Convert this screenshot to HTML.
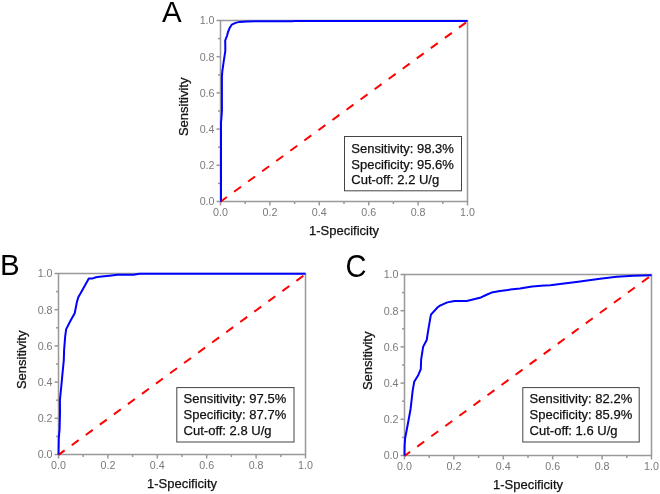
<!DOCTYPE html>
<html><head><meta charset="utf-8"><style>
html,body{margin:0;padding:0;background:#fff;}
body{width:660px;height:494px;overflow:hidden;}
svg{display:block;will-change:transform;font-family:"Liberation Sans",sans-serif;}
</style></head><body>
<svg width="660" height="494" viewBox="0 0 660 494">
<rect width="660" height="494" fill="#fff"/>
<g stroke="#999999" stroke-width="1.5" fill="none"><line x1="220.50" y1="201.50" x2="220.50" y2="205.50"/><line x1="216.50" y1="201.50" x2="220.50" y2="201.50"/><line x1="245.20" y1="201.50" x2="245.20" y2="204.00"/><line x1="218.00" y1="183.40" x2="220.50" y2="183.40"/><line x1="269.90" y1="201.50" x2="269.90" y2="205.50"/><line x1="216.50" y1="165.30" x2="220.50" y2="165.30"/><line x1="294.60" y1="201.50" x2="294.60" y2="204.00"/><line x1="218.00" y1="147.20" x2="220.50" y2="147.20"/><line x1="319.30" y1="201.50" x2="319.30" y2="205.50"/><line x1="216.50" y1="129.10" x2="220.50" y2="129.10"/><line x1="344.00" y1="201.50" x2="344.00" y2="204.00"/><line x1="218.00" y1="111.00" x2="220.50" y2="111.00"/><line x1="368.70" y1="201.50" x2="368.70" y2="205.50"/><line x1="216.50" y1="92.90" x2="220.50" y2="92.90"/><line x1="393.40" y1="201.50" x2="393.40" y2="204.00"/><line x1="218.00" y1="74.80" x2="220.50" y2="74.80"/><line x1="418.10" y1="201.50" x2="418.10" y2="205.50"/><line x1="216.50" y1="56.70" x2="220.50" y2="56.70"/><line x1="442.80" y1="201.50" x2="442.80" y2="204.00"/><line x1="218.00" y1="38.60" x2="220.50" y2="38.60"/><line x1="467.50" y1="201.50" x2="467.50" y2="205.50"/><line x1="216.50" y1="20.50" x2="220.50" y2="20.50"/><rect x="220.5" y="20.5" width="247" height="181"/></g>
<g fill="#7a7a7a" font-size="10.7"><text x="220.50" y="216.20" text-anchor="middle">0.0</text><text x="214.50" y="205.30" text-anchor="end">0.0</text><text x="269.90" y="216.20" text-anchor="middle">0.2</text><text x="214.50" y="169.10" text-anchor="end">0.2</text><text x="319.30" y="216.20" text-anchor="middle">0.4</text><text x="214.50" y="132.90" text-anchor="end">0.4</text><text x="368.70" y="216.20" text-anchor="middle">0.6</text><text x="214.50" y="96.70" text-anchor="end">0.6</text><text x="418.10" y="216.20" text-anchor="middle">0.8</text><text x="214.50" y="60.50" text-anchor="end">0.8</text><text x="467.50" y="216.20" text-anchor="middle">1.0</text><text x="214.50" y="24.30" text-anchor="end">1.0</text></g>
<text x="344.00" y="235.00" text-anchor="middle" font-size="13" fill="#111" stroke="#111" stroke-width="0.25">1-Specificity</text>
<text transform="translate(187.70,106.85) rotate(-90) scale(1,1.04)" text-anchor="middle" font-size="13" fill="#111" stroke="#111" stroke-width="0.25">Sensitivity</text>
<line x1="220.5" y1="201.7" x2="467.5" y2="21.4" stroke="#ff0000" stroke-width="2" stroke-dasharray="8.6 8.8" stroke-dashoffset="0.6"/>
<polyline points="220.99,201.50 220.99,121.86 221.29,120.05 221.91,111.00 221.91,76.39 222.30,71.31 223.61,62.20 225.29,51.09 225.29,45.01 225.19,40.50 227.09,35.60 228.01,31.99 229.81,27.70 231.69,24.70 235.59,22.91 239.30,21.89 247.10,21.60 255.08,21.30 292.13,21.30 294.60,20.90 467.50,20.90" fill="none" stroke="#0000ff" stroke-width="2" stroke-linejoin="round"/>
<rect x="344.5" y="136.5" width="117.00" height="54.30" fill="#fff" stroke="#444" stroke-width="1"/>
<text x="351.30" y="152.60" font-size="13" fill="#111" stroke="#111" stroke-width="0.25">Sensitivity: 98.3%</text>
<text x="351.30" y="168.50" font-size="13" fill="#111" stroke="#111" stroke-width="0.25">Specificity: 95.6%</text>
<text x="351.30" y="184.40" font-size="13" fill="#111" stroke="#111" stroke-width="0.25">Cut-off: 2.2 U/g</text>
<text transform="translate(161.9,21.6) scale(1,1.015)" font-size="29.5" fill="#000">A</text>
<g stroke="#999999" stroke-width="1.5" fill="none"><line x1="58.50" y1="454.50" x2="58.50" y2="458.50"/><line x1="54.50" y1="454.50" x2="58.50" y2="454.50"/><line x1="83.20" y1="454.50" x2="83.20" y2="457.00"/><line x1="56.00" y1="436.40" x2="58.50" y2="436.40"/><line x1="107.90" y1="454.50" x2="107.90" y2="458.50"/><line x1="54.50" y1="418.30" x2="58.50" y2="418.30"/><line x1="132.60" y1="454.50" x2="132.60" y2="457.00"/><line x1="56.00" y1="400.20" x2="58.50" y2="400.20"/><line x1="157.30" y1="454.50" x2="157.30" y2="458.50"/><line x1="54.50" y1="382.10" x2="58.50" y2="382.10"/><line x1="182.00" y1="454.50" x2="182.00" y2="457.00"/><line x1="56.00" y1="364.00" x2="58.50" y2="364.00"/><line x1="206.70" y1="454.50" x2="206.70" y2="458.50"/><line x1="54.50" y1="345.90" x2="58.50" y2="345.90"/><line x1="231.40" y1="454.50" x2="231.40" y2="457.00"/><line x1="56.00" y1="327.80" x2="58.50" y2="327.80"/><line x1="256.10" y1="454.50" x2="256.10" y2="458.50"/><line x1="54.50" y1="309.70" x2="58.50" y2="309.70"/><line x1="280.80" y1="454.50" x2="280.80" y2="457.00"/><line x1="56.00" y1="291.60" x2="58.50" y2="291.60"/><line x1="305.50" y1="454.50" x2="305.50" y2="458.50"/><line x1="54.50" y1="273.50" x2="58.50" y2="273.50"/><rect x="58.5" y="273.5" width="247" height="181"/></g>
<g fill="#7a7a7a" font-size="10.7"><text x="58.50" y="469.20" text-anchor="middle">0.0</text><text x="52.50" y="458.30" text-anchor="end">0.0</text><text x="107.90" y="469.20" text-anchor="middle">0.2</text><text x="52.50" y="422.10" text-anchor="end">0.2</text><text x="157.30" y="469.20" text-anchor="middle">0.4</text><text x="52.50" y="385.90" text-anchor="end">0.4</text><text x="206.70" y="469.20" text-anchor="middle">0.6</text><text x="52.50" y="349.70" text-anchor="end">0.6</text><text x="256.10" y="469.20" text-anchor="middle">0.8</text><text x="52.50" y="313.50" text-anchor="end">0.8</text><text x="305.50" y="469.20" text-anchor="middle">1.0</text><text x="52.50" y="277.30" text-anchor="end">1.0</text></g>
<text x="182.00" y="488.00" text-anchor="middle" font-size="13" fill="#111" stroke="#111" stroke-width="0.25">1-Specificity</text>
<text transform="translate(25.70,359.85) rotate(-90) scale(1,1.04)" text-anchor="middle" font-size="13" fill="#111" stroke="#111" stroke-width="0.25">Sensitivity</text>
<line x1="58.5" y1="454.9" x2="305.5" y2="274.2" stroke="#ff0000" stroke-width="2" stroke-dasharray="8.6 8.8" stroke-dashoffset="1.0"/>
<polyline points="58.50,454.50 58.80,437.59 59.61,429.30 60.01,411.69 59.91,400.00 61.29,386.41 62.60,372.31 63.81,360.11 64.11,350.01 65.09,337.39 66.11,329.39 70.21,321.30 74.70,313.19 76.90,302.01 78.41,296.90 80.61,293.30 88.81,278.41 92.71,278.41 95.99,277.19 99.50,276.70 109.21,275.71 117.71,274.69 133.49,274.69 139.52,273.86 305.50,273.86" fill="none" stroke="#0000ff" stroke-width="2" stroke-linejoin="round"/>
<rect x="176.8" y="387.6" width="117.20" height="54.40" fill="#fff" stroke="#444" stroke-width="1"/>
<text x="183.60" y="402.80" font-size="13" fill="#111" stroke="#111" stroke-width="0.25">Sensitivity: 97.5%</text>
<text x="183.60" y="418.70" font-size="13" fill="#111" stroke="#111" stroke-width="0.25">Specificity: 87.7%</text>
<text x="183.60" y="434.60" font-size="13" fill="#111" stroke="#111" stroke-width="0.25">Cut-off: 2.8 U/g</text>
<text transform="translate(-0.1,275.4) scale(1,1)" font-size="29.5" fill="#000">B</text>
<g stroke="#999999" stroke-width="1.5" fill="none"><line x1="404.50" y1="455.50" x2="404.50" y2="459.50"/><line x1="400.50" y1="455.50" x2="404.50" y2="455.50"/><line x1="429.20" y1="455.50" x2="429.20" y2="458.00"/><line x1="402.00" y1="437.40" x2="404.50" y2="437.40"/><line x1="453.90" y1="455.50" x2="453.90" y2="459.50"/><line x1="400.50" y1="419.30" x2="404.50" y2="419.30"/><line x1="478.60" y1="455.50" x2="478.60" y2="458.00"/><line x1="402.00" y1="401.20" x2="404.50" y2="401.20"/><line x1="503.30" y1="455.50" x2="503.30" y2="459.50"/><line x1="400.50" y1="383.10" x2="404.50" y2="383.10"/><line x1="528.00" y1="455.50" x2="528.00" y2="458.00"/><line x1="402.00" y1="365.00" x2="404.50" y2="365.00"/><line x1="552.70" y1="455.50" x2="552.70" y2="459.50"/><line x1="400.50" y1="346.90" x2="404.50" y2="346.90"/><line x1="577.40" y1="455.50" x2="577.40" y2="458.00"/><line x1="402.00" y1="328.80" x2="404.50" y2="328.80"/><line x1="602.10" y1="455.50" x2="602.10" y2="459.50"/><line x1="400.50" y1="310.70" x2="404.50" y2="310.70"/><line x1="626.80" y1="455.50" x2="626.80" y2="458.00"/><line x1="402.00" y1="292.60" x2="404.50" y2="292.60"/><line x1="651.50" y1="455.50" x2="651.50" y2="459.50"/><line x1="400.50" y1="274.50" x2="404.50" y2="274.50"/><rect x="404.5" y="274.5" width="247" height="181"/></g>
<g fill="#7a7a7a" font-size="10.7"><text x="404.50" y="470.20" text-anchor="middle">0.0</text><text x="398.50" y="459.30" text-anchor="end">0.0</text><text x="453.90" y="470.20" text-anchor="middle">0.2</text><text x="398.50" y="423.10" text-anchor="end">0.2</text><text x="503.30" y="470.20" text-anchor="middle">0.4</text><text x="398.50" y="386.90" text-anchor="end">0.4</text><text x="552.70" y="470.20" text-anchor="middle">0.6</text><text x="398.50" y="350.70" text-anchor="end">0.6</text><text x="602.10" y="470.20" text-anchor="middle">0.8</text><text x="398.50" y="314.50" text-anchor="end">0.8</text><text x="651.50" y="470.20" text-anchor="middle">1.0</text><text x="398.50" y="278.30" text-anchor="end">1.0</text></g>
<text x="528.00" y="489.00" text-anchor="middle" font-size="13" fill="#111" stroke="#111" stroke-width="0.25">1-Specificity</text>
<text transform="translate(371.70,360.85) rotate(-90) scale(1,1.04)" text-anchor="middle" font-size="13" fill="#111" stroke="#111" stroke-width="0.25">Sensitivity</text>
<line x1="404.5" y1="455.9" x2="651.5" y2="275.3" stroke="#ff0000" stroke-width="2" stroke-dasharray="8.6 8.8" stroke-dashoffset="1.6"/>
<polyline points="404.50,455.50 404.60,445.55 405.09,438.49 407.61,425.27 410.60,408.98 412.70,390.34 414.21,381.83 418.21,375.14 420.80,369.16 421.10,359.93 423.10,346.90 426.71,340.02 428.61,327.89 430.93,314.68 437.70,307.30 439.99,305.63 447.31,302.39 454.49,300.91 466.69,301.00 480.01,297.79 486.01,295.01 491.49,292.60 499.99,291.10 510.29,289.60 520.00,288.40 532.10,286.50 544.20,285.60 550.30,285.20 560.01,284.09 578.19,281.70 600.00,278.70 616.67,276.80 633.30,275.80 651.50,275.22" fill="none" stroke="#0000ff" stroke-width="2" stroke-linejoin="round"/>
<rect x="522.8" y="387.6" width="116.40" height="54.40" fill="#fff" stroke="#444" stroke-width="1"/>
<text x="529.60" y="402.90" font-size="13" fill="#111" stroke="#111" stroke-width="0.25">Sensitivity: 82.2%</text>
<text x="529.60" y="418.80" font-size="13" fill="#111" stroke="#111" stroke-width="0.25">Specificity: 85.9%</text>
<text x="529.60" y="434.70" font-size="13" fill="#111" stroke="#111" stroke-width="0.25">Cut-off: 1.6 U/g</text>
<text transform="translate(345.4,276.8) scale(0.985,1.05)" font-size="29.5" fill="#000">C</text>
</svg></body></html>
